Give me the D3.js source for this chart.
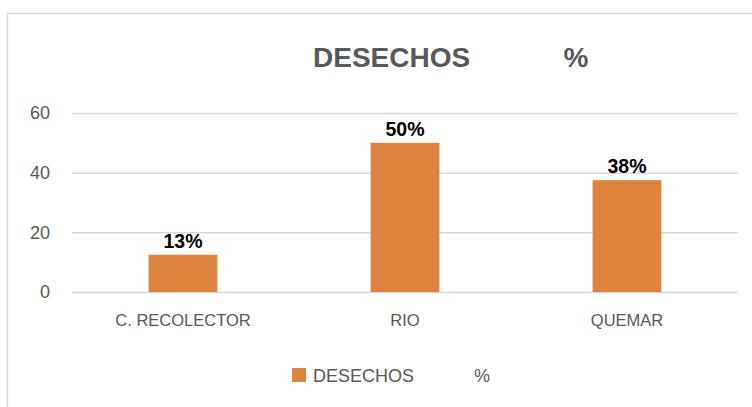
<!DOCTYPE html>
<html>
<head>
<meta charset="utf-8">
<script src="https://cdn.jsdelivr.net/npm/d3@7"></script>
<style>
  body { margin: 0; background: #fff; }
  svg { display: block; }
</style>
</head>
<body>
<div id="chart"></div>
<script>
var categories = ['C. RECOLECTOR', 'RIO', 'QUEMAR'];
var values = [12.5, 50, 37.5];
var valueLabels = ['13%', '50%', '38%'];
var yTicks = [0, 20, 40, 60];
var seriesName = 'DESECHOS';

var width = 752, height = 407;
var margin = { top: 113, right: 14, bottom: 115, left: 72 };
var w = width - margin.left - margin.right;
var h = height - margin.top - margin.bottom;
var barColor = '#DD8340';
var textGray = '#595959';
var font = 'Liberation Sans, Arial, sans-serif';

var svg = d3.select('#chart')
  .append('svg')
  .attr('width', width)
  .attr('height', height);

// chart frame (runs off the right and bottom edge like the original)
svg.append('rect')
  .attr('x', 7.5)
  .attr('y', 13.5)
  .attr('width', 760)
  .attr('height', 420)
  .attr('fill', 'none')
  .attr('stroke', '#d9d9d9')
  .attr('stroke-width', 1.5);

var xScale = d3.scaleBand()
  .domain(categories)
  .range([margin.left, margin.left + w])
  .paddingInner(0.69)
  .paddingOuter(0.345);

var yScale = d3.scaleLinear()
  .domain([0, 60])
  .range([margin.top + h, margin.top]);

// gridlines
var yGrid = d3.axisLeft(yScale)
  .tickValues(yTicks)
  .tickFormat('')
  .tickSize(-w);
svg.append('g')
  .attr('class', 'grid')
  .attr('transform', 'translate(' + margin.left + ',0)')
  .call(yGrid)
  .call(function(g) { g.select('.domain').remove(); })
  .selectAll('line')
  .attr('stroke', '#d9d9d9')
  .attr('stroke-width', 1.5);

// y labels
var yAxis = d3.axisLeft(yScale)
  .tickValues(yTicks)
  .tickSize(0)
  .tickPadding(22);
svg.append('g')
  .attr('class', 'y axis')
  .attr('transform', 'translate(' + margin.left + ',0)')
  .call(yAxis)
  .call(function(g) { g.select('.domain').remove(); })
  .selectAll('text')
  .attr('fill', textGray)
  .attr('font-family', font)
  .attr('font-size', 18);

// bars
svg.selectAll('.bar')
  .data(values)
  .enter()
  .append('rect')
  .attr('class', 'bar')
  .attr('x', function(d, i) { return xScale(categories[i]); })
  .attr('y', function(d) { return yScale(d); })
  .attr('width', xScale.bandwidth())
  .attr('height', function(d) { return yScale(0) - yScale(d); })
  .attr('fill', barColor);

// value labels
svg.selectAll('.val')
  .data(values)
  .enter()
  .append('text')
  .attr('class', 'val')
  .attr('x', function(d, i) { return xScale(categories[i]) + xScale.bandwidth() / 2; })
  .attr('y', function(d) { return yScale(d) - 7; })
  .attr('text-anchor', 'middle')
  .attr('font-family', font)
  .attr('font-weight', 'bold')
  .attr('font-size', 19.5)
  .attr('fill', '#000')
  .text(function(d, i) { return valueLabels[i]; });

// x labels
var xAxis = d3.axisBottom(xScale)
  .tickSize(0)
  .tickPadding(22);
svg.append('g')
  .attr('class', 'x axis')
  .attr('transform', 'translate(0,' + (margin.top + h) + ')')
  .call(xAxis)
  .call(function(g) { g.select('.domain').remove(); })
  .selectAll('text')
  .attr('fill', textGray)
  .attr('font-family', font)
  .attr('font-size', 16.5);

// title
svg.append('text')
  .attr('x', 313)
  .attr('y', 67)
  .attr('font-family', font)
  .attr('font-weight', 'bold')
  .attr('font-size', 28)
  .attr('fill', textGray)
  .style('white-space', 'pre')
  .text(seriesName + '            %');

// legend
var legend = svg.append('g')
  .attr('transform', 'translate(292,368)');
legend.append('rect')
  .attr('width', 14)
  .attr('height', 14)
  .attr('fill', barColor);
legend.append('text')
  .attr('x', 21)
  .attr('y', 14)
  .attr('font-family', font)
  .attr('font-size', 18)
  .attr('fill', textGray)
  .style('white-space', 'pre')
  .text(seriesName + '            %');
</script>
</body>
</html>
